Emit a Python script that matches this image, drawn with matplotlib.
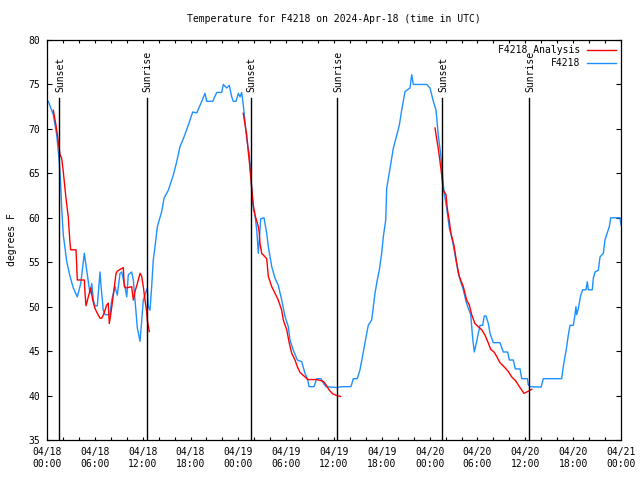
import numpy as np
import matplotlib
matplotlib.use("Agg")
import matplotlib.pyplot as plt
from matplotlib.ticker import MultipleLocator

# ---------------- data (hours since 2024-04-18 00:00 UTC) ----------------
obs_hours = [0.0, 0.16, 0.79, 1.22, 1.54, 1.72, 1.84, 2.04, 2.26, 2.47, 2.89, 3.30, 3.80,
             4.23, 4.68, 4.98, 5.39, 5.61, 5.81, 6.02, 6.31, 6.65, 6.77, 7.06, 7.28, 7.90,
             8.12, 8.53, 8.82, 9.16, 9.37, 9.78, 10.0, 10.2, 10.62, 10.83, 11.04, 11.33,
             11.67, 11.88, 12.08, 12.42, 12.58, 12.71, 12.92, 13.13, 13.33, 13.55, 13.84,
             14.39, 14.68, 15.22, 15.84, 16.27, 16.68, 17.10, 17.52, 17.94, 18.28, 18.78,
             19.41, 19.82, 20.03, 20.79, 21.29, 21.91, 22.12, 22.54, 22.87, 23.17, 23.37,
             23.71, 24.0, 24.21, 24.42, 24.62, 24.84, 25.05, 25.38, 25.55, 25.88, 26.09,
             26.31, 26.51, 26.63, 26.81, 27.22, 27.56, 27.76, 28.19, 28.60, 29.01, 29.44,
             29.85, 30.27, 30.48, 30.90, 31.40, 31.95, 32.36, 32.70, 32.87, 33.49, 33.83,
             34.37, 34.66, 35.0, 36.34, 36.97, 38.13, 38.42, 38.92, 39.26, 39.68, 40.02,
             40.30, 40.73, 40.93, 41.14, 41.43, 41.68, 41.98, 42.19, 42.49, 42.61, 43.03,
             43.44, 43.87, 44.19, 44.49, 44.91, 45.53, 45.75, 45.95, 47.63, 48.04, 48.26,
             48.46, 48.80, 49.08, 49.39, 49.64, 49.80, 50.14, 50.47, 50.64, 50.97, 51.30,
             51.59, 51.89, 52.22, 52.56, 52.85, 53.15, 53.40, 53.60, 53.90, 54.10, 54.32,
             54.65, 54.85, 55.07, 55.36, 55.57, 55.98, 56.82, 57.24, 57.79, 57.99, 58.49,
             58.74, 59.33, 59.55, 60.25, 60.38, 60.59, 61.97, 62.26, 64.56, 64.76, 64.98,
             65.19, 65.39, 65.60, 66.02, 66.23, 66.35, 66.44, 66.65, 66.95, 67.20, 67.61,
             67.78, 67.90, 68.40, 68.53, 68.74, 69.16, 69.37, 69.78, 69.99, 70.21, 70.53,
             70.71, 71.88, 72.0]
obs_temp = [73.2, 73.1, 71.6, 69.3, 66.3, 63.7, 61.1, 58.1, 56.6, 55.1, 53.4, 52.1, 51.1,
            52.6, 56.0, 54.1, 51.5, 52.6, 50.75, 50.1, 50.1, 53.9, 52.4, 49.6, 49.1, 49.1,
            50.75, 52.25, 51.3, 53.75, 53.9, 52.25, 51.1, 53.6, 53.9, 53.0, 50.75, 47.6,
            46.1, 48.5, 50.75, 51.7, 52.1, 50.0, 49.6, 52.25, 55.25, 56.75, 59.0,
            60.7, 62.2, 63.1, 64.8, 66.3, 68.0, 68.9, 69.9, 71.0, 71.9, 71.8,
            73.1, 74.0, 73.1, 73.1, 74.1, 74.1, 75.0, 74.6, 74.9, 73.6, 73.1,
            73.1, 74.0, 73.6, 74.1, 72.7, 70.8, 68.9, 67.1, 64.8, 61.1, 60.3,
            58.6, 56.0, 57.5, 59.9, 60.0, 58.25, 56.75, 54.5, 53.2, 52.4, 50.75,
            48.9, 47.75, 46.25, 45.1, 44.0, 43.8, 42.5, 41.8, 41.0, 41.0, 41.9,
            41.9, 41.4, 41.0, 40.9, 41.0, 41.0, 41.9, 41.9, 42.9, 44.9, 46.6,
            47.9, 48.5, 50.0, 51.5, 53.0, 54.1, 56.0, 57.9, 59.75, 63.3, 65.6,
            67.8, 69.3, 70.4, 72.1, 74.2, 74.6, 76.1, 75.0, 75.0, 74.6, 73.8,
            73.1, 72.1, 69.3, 67.1, 64.4, 62.9, 61.05, 58.8, 58.25, 56.9, 55.25,
            53.75, 52.8, 51.9, 50.6, 49.8, 49.1, 46.4, 44.9, 46.1, 47.0, 47.9,
            47.9, 48.95, 48.95, 48.1, 47.0, 45.95, 45.95, 44.9, 44.9, 44.0, 44.0,
            43.0, 43.0, 41.9, 41.9, 41.2, 41.0, 40.95, 41.9, 41.9, 43.25, 44.4,
            45.5, 46.8, 47.9, 47.9, 49.1, 50.0, 49.1, 49.8, 51.3, 51.9, 51.9,
            52.8, 51.9, 51.9, 53.2, 53.9, 54.1, 55.6, 56.0, 57.5, 58.1, 59.0,
            60.0, 60.0, 59.2]

ana1_hours = [0.79, 1.13, 1.42, 1.63, 1.84, 2.04, 2.38, 2.67, 2.80, 2.89, 2.97, 3.64, 3.80,
              4.68, 4.77, 4.89, 5.18, 5.48, 5.73, 6.02, 6.31, 6.65, 6.86, 7.15, 7.49, 7.69,
              7.81, 7.99, 8.24, 8.40, 8.66, 8.82, 9.57, 9.70, 9.91, 10.62, 10.83, 11.04,
              11.33, 11.67, 11.88, 12.08, 12.29, 12.51, 12.58, 12.83]
ana1_temp = [72.1, 70.4, 68.6, 67.1, 66.7, 65.2, 62.2, 60.1, 58.25, 57.1, 56.4, 56.4, 53.0,
             53.0, 51.5, 50.1, 51.1, 52.1, 50.75, 49.8, 49.25, 48.7, 48.7, 49.25, 50.2, 50.4,
             48.1, 49.1, 50.75, 51.9, 53.75, 54.0, 54.4, 52.25, 52.1, 52.25, 50.75, 51.7,
             52.6, 53.75, 53.4, 52.25, 50.75, 49.4, 48.5, 47.2]

ana2_hours = [24.62, 25.05, 25.25, 25.46, 25.68, 25.88, 26.09, 26.51, 26.63, 26.72, 26.93,
              27.56, 27.76, 28.19, 28.60, 29.01, 29.44, 29.64, 30.07, 30.39, 30.70, 31.11,
              31.40, 31.74, 32.36, 32.70, 33.83, 34.25, 34.66, 35.0, 35.41, 35.84, 36.34,
              36.84]
ana2_temp = [71.75, 69.3, 67.4, 65.6, 63.3, 61.4, 60.3, 59.0, 58.25, 57.1, 56.0,
             55.4, 53.4, 52.25, 51.5, 50.75, 49.6, 48.5, 47.4, 45.9, 44.75, 44.0,
             43.25, 42.6, 42.1, 41.8, 41.8, 41.7, 41.6, 41.2, 40.6, 40.2, 40.0,
             39.9]

ana3_hours = [48.67, 48.88, 49.08, 49.30, 49.51, 49.71, 50.05, 50.21, 50.47, 50.64, 50.77,
              51.05, 51.39, 51.72, 52.22, 52.64, 52.97, 53.27, 53.68, 54.10, 54.53, 54.94,
              55.36, 55.66, 56.07, 56.41, 56.82, 57.32, 57.87, 58.29, 58.83, 59.25, 59.83,
              60.17, 60.50, 60.80]
ana3_temp = [70.1, 68.9, 67.8, 66.3, 64.8, 63.1, 62.6, 61.05, 59.6, 58.4, 57.9,
             56.9, 54.9, 53.4, 52.25, 50.75, 50.2, 49.1, 48.1, 47.75, 47.4, 46.8,
             45.9, 45.2, 44.9, 44.4, 43.7, 43.25, 42.7, 42.1, 41.6, 41.0, 40.25,
             40.4, 40.55, 40.7]

sun_hours = [1.54, 12.51, 25.53, 36.41, 49.59, 60.50]
sun_labels = ["Sunset", "Sunrise", "Sunset", "Sunrise", "Sunset", "Sunrise"]

xtick_hours = [0, 6, 12, 18, 24, 30, 36, 42, 48, 54, 60, 66, 72]
xtick_labels = ["04/18\n00:00", "04/18\n06:00", "04/18\n12:00", "04/18\n18:00",
                "04/19\n00:00", "04/19\n06:00", "04/19\n12:00", "04/19\n18:00",
                "04/20\n00:00", "04/20\n06:00", "04/20\n12:00", "04/20\n18:00",
                "04/21\n00:00"]

# ---------------- figure ----------------
plt.rcParams['font.family'] = ['DejaVu Sans Mono']
FS = 7

fig = plt.figure(figsize=(6.4, 4.8), dpi=100)
ax = fig.add_axes([47/640, 40/480, (621-47)/640, 400/480])

lw = 1.0
ax.plot(ana1_hours, ana1_temp, color='#ff0000', lw=lw, label='F4218 Analysis', zorder=3)
ax.plot(ana2_hours, ana2_temp, color='#ff0000', lw=lw, zorder=3)
ax.plot(ana3_hours, ana3_temp, color='#ff0000', lw=lw, zorder=3)
ax.plot(obs_hours, obs_temp, color='#1e90ff', lw=lw, label='F4218', zorder=2)

for h, lab in zip(sun_hours, sun_labels):
    ax.plot([h, h], [35, 73.5], color='black', lw=1.0, zorder=4)
    ax.text(h + 0.1, 74.2, lab, rotation=90, ha='center', va='bottom', fontsize=FS)

ax.set_xlim(0, 72)
ax.set_ylim(35, 80)
ax.set_xticks(xtick_hours)
ax.set_xticklabels(xtick_labels, fontsize=FS)
ax.xaxis.set_minor_locator(MultipleLocator(2))
ax.yaxis.set_major_locator(MultipleLocator(5))
ax.tick_params(axis='both', which='both', direction='in', top=True, right=True,
               labelsize=FS, width=0.8)
ax.tick_params(axis='x', which='major', length=2.2, pad=5)
ax.tick_params(axis='x', which='minor', length=2.2)
ax.tick_params(axis='y', which='major', length=3.5, pad=5)
for s in ax.spines.values():
    s.set_linewidth(0.9)

ax.set_ylabel('degrees F', fontsize=FS, labelpad=8)
ax.set_title('Temperature for F4218 on 2024-Apr-18 (time in UTC)', fontsize=FS, pad=13)

leg = ax.legend(loc='upper right', frameon=False, fontsize=FS, handlelength=2.9,
                markerfirst=False, borderaxespad=0.25, labelspacing=0.3,
                handletextpad=0.7, borderpad=0.3)
for t in leg.get_texts():
    t.set_ha('right')

fig.savefig('out.png', dpi=100)
